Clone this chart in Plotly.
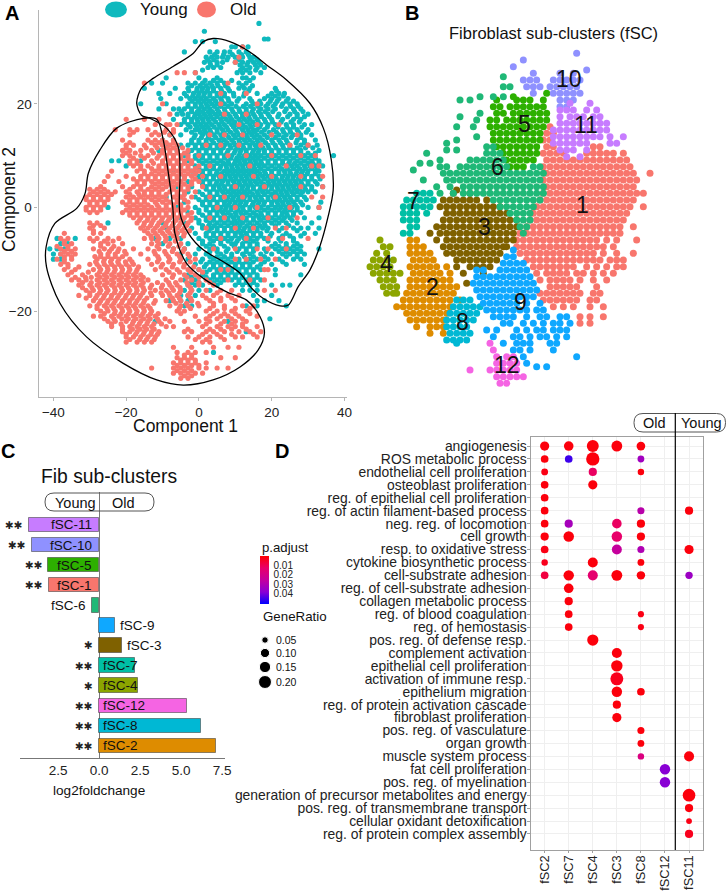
import math
import plotly.graph_objects as go

W, H = 726, 891
FONT = "Liberation Sans"
def px(x): return x / W
def py(y): return 1 - y / H

# ---------- Panel A: tSNE positions read row by row (y: x values) ----------
young_rows = {
35.5:[16.5],34:[1.5],32.5:[18,19],32:[-1,1,4.5],31:[9,10,12,13.5],30:[-4,3,5,7,8.5,11,13],
29:[2,3.5,5,6.5,8,10,12,14,15],28:[1.5,3,5,6.5,10,12,13.5,15,16.5],27:[2.5,4,6,12,14,16,18],
26:[-1,10.5,12,14,17],25:[-9,0,5,12,13,15],24:[-13,-10,-3,-1,1,3,5,7,11,13],
23:[-15,-6.5,-3,-0.5,1,2.5,4,6,8,11,12.5,14,21],22:[-11,-8,-4,-1.5,0,1.5,3,5,7,9.5,12.5,16,20,22,23.5],
21:[-10.5,-5,-2.5,-1,0.5,2,4,6,8,11,14,18,20,22,24.5],
20:[-16,-9,-3,-1,0.5,2,3.5,5,7,9,13,15,17,19,21,23,25,27],
19:[-11,-7,-5.5,-4,-2,0,1.5,3,5,7,9,11,13,15,17,19,21,24,26,28],
18:[-6,-4.5,-3,-1,0,1.5,3,4.5,6,8,10,12,13.5,15,17,19,22,25,27,30],
17:[-7,-4,-2,-0.5,1,2.5,4,6,7.5,9,11,12.5,14,16,18,20,23,26,28],
16:[-5,-3,-1,0.5,2,3.5,5.5,7,9,10,12,14,15.5,17,19,21,24,26,29,31],
15:[-3.5,-1,0,1.5,3,5,6.5,8,10,12,13.5,15,16,18,20.5,23,25,27,30],
14:[-8,-5,-1,1,2.5,4,6,7.5,9.5,11,13,14.5,16,18,20,22,24,26,28,31],
13:[-10,-7,-2,0,2,3.5,5.5,7,9,11,12.5,14,16,17.5,20,22,24,27,29,32],
12:[-8.5,-5,-3,-1,1,3,5,7,8.5,10,12,14,15.5,17,19,21,23,25,28,30,32.5],
11:[-11,-6,-2,0,2,4,6,8,10,11.5,13,15,16.5,18,20,22,24,26,28,33],
10:[-7,-4,-1,1,3,5,7,9,11,12.5,14,15.5,17,19,21,23,25,27,29,31,37],
9:[-24,-22,-16,-3,0,2,4,6,8,10,11,12.5,14,15.5,17,19,21,23,25,27,29,31,33],
8:[-20,-5,-1,2,4,6,7.5,9,10.5,12,13.5,15,16.5,18,20,22,24,25.5,27,29,30.5,32,34],
7:[-7,-2,1,3,5,7,8.5,10,11.5,13,14.5,16,18,20,22,23.5,25,27,28.5,30,32,33],
6:[-4,0,2,4,5.5,7,8.5,10,11.5,13,14.5,16,17.5,19,21,23,24.5,26,27.5,29,31,33],
5:[-8,-3,1,3,5,6.5,8,9.5,11,12.5,14,15.5,17,19,20.5,22,23.5,25,26.5,28,30,32],
4:[-6,-2,2,4,5.5,7,9,10.5,12,13.5,15,17,18.5,20,21.5,23,24.5,26,27.5,29,31,34],
3:[-3,0,3,5,6.5,8,9.5,11,12.5,14,16,17.5,19,21,22.5,24,25.5,27,28.5,30,32],
2:[-9,-5,-1,2,4,6,8,9.5,11,12.5,14,15.5,17,19,20.5,22,23.5,25,27,29],
1:[-4,1,3,5,7,8.5,10,11.5,13,15,16.5,18,20,21.5,23,24.5,26,28,33.5],
0:[-25,-6,-1,2,4,6,7.5,9,10.5,12,14,15.5,17,19,21,22.5,24,25.5,27,30,33],
-1:[-3,0,3,5,6.5,8,10,11.5,13,15,17,19,21,23,24,26,28],
-2:[-8,-5,-1,2,4,6,8,9.5,11,13,15,16.5,18,20,22,23.5,25,29,33],
-3:[-25,-10,-4,0,3,5,7,9,10.5,12,14,16,18,20,22,24,27,31],
-4:[-9,-6,-2,1,3.5,5,7,9,11,12.5,14,16,17.5,19,23,26,28,30,33],
-5:[-6,-1,2,4,6,8,10,11.5,13,15,17,20,24,29,32],
-6:[-39,-34,-12,-8,-5,0,3,5,7,9,11,12.5,14,16,18,22,26],
-7:[-38,-36,-10,-3,1,3,6,9,10,12,14,16,21,24,27],
-8:[-41,-39,-37,-7,-4,0,3,5,8,11,13,15,18,21,23,25,27,33],
-9:[-40,-38,-5,-1,2,6,9,12,14,17,20,23,25,27,29],
-10:[-40,-38,-3,1,4,6,8,11,14,16,19,22,26,28],
-11:[-1,2,4,6,8,10,12,14,17,20,24,29],-12:[0,3,5,7,9,11,13,15,17,21],
-13:[-3,1,4,6,8,10,12,14,16,21,28],-14:[-4,-1,3,5,7,9,11,13,15,17],
-15:[-3,-1,1,5,10,12,14,16,20,23,25],-16:[-4,-2,0,3,12,14,16],-17:[-5,-3,-1,15,20],
-18:[-8,-5,-3,16,18,22],-19:[-4,-2,13,16,24],-21.5:[19.5],-22:[8,-12],-24:[13],-28:[4],
}
young_rows_between = {
29.5:[4.3,6.8,9.2,11.7,13.6],28.5:[2.4,4.1,7.7,11,14.3,16],27.5:[3.2,5,11.3,13.2,15.5,17],26.5:[1,11.4,13,15.6],
24.5:[1.7,4,6,9,14],23.5:[-2,0.3,2,3.6,5.2,7.3,12,14.7],22.5:[-2.8,-0.6,0.8,2.3,4,6.2,8.4,13.7,21.3],
21.5:[-3.4,-1.7,-0.2,1.3,3,5,7,9.6,12.3,19,21,23.2],20.5:[-1.9,-0.1,1.4,2.9,4.6,6.3,8.2,10.5,14.5,16.7,19.6,21.5,24,26],
19.5:[-3,-1,0.7,2.4,4.2,6,8,10.2,12.2,14.2,16.2,18.4,20.4,22.7,25.2,27.3],
18.5:[-4.8,-2,-0.4,1,2.6,3.7,5.4,7.2,9.3,11.2,13,14.6,16.4,18.2,20.3,23.6,26.3,28.6],
17.5:[-3,-1.2,0.4,1.9,3.3,5,6.8,8.6,10.3,12,13.7,15.4,17.2,19.4,21.7,24.4,27,29],
16.5:[-4,-2,-0.3,1.2,2.8,4.6,6.3,8.2,9.8,11.4,13.2,14.8,16.3,18.3,20.2,22.6,25.3,27.6],
15.5:[-2.4,-0.5,1,2.4,4.2,5.8,7.6,9.5,11.1,12.8,14.4,16.7,18.8,21.7,24.2,26,28.3],
14.5:[-2,0.4,1.8,3.3,5,6.8,8.7,10.5,12.3,13.9,15.3,17.2,19.3,21.3,23.3,25.2,27.4,29.5],
13.5:[-1.3,0.7,2.6,4.6,6.4,8.2,10,11.8,13.3,15.2,16.8,18.8,21,23.2,25.4,28],
12.5:[-2,0,2,4,6,7.7,9.6,11.2,13,14.8,16.3,18.3,20.3,22.4,24.3,26.7,29],
11.5:[-1,1,3,5,6.7,8.8,10.6,12.3,14,15.8,17.6,19.2,21.2,23.2,25,27,29.3,31.3],
10.5:[-3,0,2,4,6,7.7,9.7,11.3,13,14.7,16.2,18,20,22,24,26,28,30,32],
9.5:[-1,1,3,5,7,8.8,10.4,11.8,13.3,14.8,16.2,18,20,22,24,26,28,30,32],
8.5:[-2,1,3,5,6.8,8.2,9.8,11.3,12.8,14.3,15.8,17.2,19,21,23,24.7,26.3,28,30,31.3,33],
7.5:[0,2,4,5.8,7.7,9.2,10.8,12.2,13.8,15.3,17,19,21,22.7,24.3,26,27.7,29.3,31,32.5],
6.5:[-1,1,3,4.8,6.2,7.8,9.3,10.8,12.3,13.8,15.3,16.8,18.3,20,22,23.7,25.2,26.7,28.2,29.8,32],
5.5:[0,2,4,5.8,7.2,8.8,10.2,11.8,13.3,14.8,16.3,18,19.8,21.3,22.8,24.3,25.8,27.3,29,31,33.3],
4.5:[1,3,4.7,6.2,8,9.8,11.2,12.8,14.3,16,17.8,19.3,20.8,22.2,23.8,25.3,26.8,28.3,30,32.5],
3.5:[2,4,5.8,7.2,8.8,10.2,11.8,13.3,15,16.8,18.2,20,21.8,23.2,24.8,26.3,27.7,29.3,31],
2.5:[1,3,5,7,8.8,10.3,11.8,13.2,14.8,16.3,18,20,21.3,22.8,24.3,26,28],
1.5:[0,2,4,6,7.7,9.2,10.8,12.2,14,15.8,17.3,19,20.8,22.2,23.8,25.3,27,29.5],
0.5:[1,3,5,7,8.2,9.8,11.2,12.8,14.7,16.2,17.8,20,21.8,23.2,24.8,26.5,28.5],
-0.5:[0,2,4,5.8,7.2,8.8,10.8,12.2,14,16,18,20,22,23.6,25,27],
-1.5:[1,3,5,7,8.8,10.2,12,14,15.8,17.2,19,21,22.8,24.3,26],-2.5:[0,2,4,6,8,9.8,11.3,13,15,17,19,21,23,25.6],
-3.5:[1,2.7,4.2,6,8,9.8,11.3,13.2,15,16.8,18.2,21,24.7],-4.5:[2.8,5,7,9,10.8,12.2,14,16,18.7,22,27],
-5.5:[2,4,6,8,10,11.8,13.2,15,17,19.6,23,25,28],-6.5:[1,4,6,8,10.5,13,15,19,22.5,26],
-7.5:[2,4,7,9.7,12,14,16,20,22,24,26,28],-8.5:[3,5,7.5,10.5,13,15,18.5,22,24,26,28],-9.5:[3,5,7,9,12.5,15,18,24,27],
-10.5:[0.5,3,5,7,9,11,13,15,18,23],-11.5:[1.5,4,6,8,10,12,14,16],-12.5:[2,5,7,9,11,13,15],
-13.5:[-2,2,4,6,8,10,12,14,16],-14.5:[-2,0,4,6,11,13,15],
}
old_rows = {
31:[12],29:[11],28:[10],26:[-6,-4,-1],24:[-15,8],22:[6,13],20:[-10,6,16],18:[-8,7,13],
17:[-20,-15,-11],16:[-12,-9,-8,-6,11,16,22],15:[-23,-19,-17,-14,-9,-7],
14:[-19,-13,-11,-8,3,7,12,20,27],13:[-21,-14,-12,-10,-7],
12:[-20,-18,-15,-12,-10,-8,-6,2,6,11,17,25,30],11:[-21,-19,-16,-13,-10,-8,-6,-3],
10:[-21,-19,-16,-14,-11,-9,-7,-5,-3,0,8,13,20,28,32],9:[-19,-17,-13,-10,-8,-6,-4,-2],
8:[-18,-16,-14,-11,-9,-7,-5,-3,0,3,14,24,31,33],7:[-24,-17,-15,-12,-10,-8,-6,-4,-2,0],
6:[-25,-20,-16,-14,-12,-10,-8,-6,-4,-2,1,6,15,20,28,34],5:[-26,-22,-17,-15,-13,-11,-9,-7,-5,-2,0],
4:[-27,-21,-18,-16,-13,-11,-9,-7,-5,-3,1,10,18,28,34],
3:[-29,-27,-25,-23,-20,-17,-15,-13,-11,-8,-6,-4,-1],
2:[-31,-29,-27,-25,-20,-18,-16,-14,-12,-10,-7,-5,-2,3,7,12,21,31,34],
1:[-30,-28,-26,-21,-19,-17,-15,-12,-10,-8,-6,-3],
0:[-31,-29,-27,-19,-17,-15,-13,-11,-9,-7,-5,-3,5,10,16,25,33],
-1:[-30,-28,-21,-19,-17,-15,-13,-11,-9,-7,-5,-2],
-2:[-18,-16,-14,-12,-10,-8,-6,-4,-2,3,7,12,19,27],
-3:[-30,-28,-17,-15,-13,-11,-9,-7,-5,-3],
-4:[-30,-26,-16,-14,-12,-10,-8,-6,-4,2,10,15,21,24],-5:[-29,-27,-14,-12,-10,-8,-6,-4,-37],
-6:[-38,-36,-30,-28,-25,-22,-15,-13,-11,-9,-6,6,13,19,23,30],
-7:[-37,-35,-27,-25,-21,-13,-11,-8,-5],
-8:[-38,-36,-34,-29,-26,-24,-22,-18,-14,-11,-7,-4,4,10,16,19,24],
-9:[-38,-36,-34,-27,-25,-23,-20,-16,-12,-9,-6,-3],
-10:[-39,-37,-35,-28,-26,-24,-22,-19,-14,-11,-8,-5,-1,10,13,17,21],
-11:[-38,-36,-30,-28,-26,-24,-22,-20,-18,-13,-10,-7,-4],
-12:[-37,-34,-29,-27,-25,-23,-21,-19,-17,-12,-9,-6,-3,0,6,8,18,19],
-13:[-36,-32,-28,-26,-24,-22,-20,-18,-16,-10,-7,-4,-1],
-14:[-35,-33,-31,-28,-26,-24,-22,-20,-18,-16,-14,-9,-5,-2,2,8,14,18],
-15:[-33,-30,-28,-26,-24,-22,-20,-18,-16,-13,-10,-8,-6,-3,0,4],
-16:[-31,-29,-27,-25,-23,-21,-19,-17,-15,-12,-9,-7,-5,-2,2,6,9,18,21],
-17:[-33,-30,-28,-26,-24,-22,-20,-18,-16,-13,-10,-8,-6,-3,1,4,8,11],
-18:[-29,-27,-25,-23,-21,-19,-17,-15,-12,-9,-7,-5,-2,3,6,10],
-19:[-30,-28,-26,-24,-22,-20,-18,-16,-14,-8,-5,-3,0,4,7,12,15],
-20:[-27,-25,-23,-21,-19,-17,-15,-13,-6,-4,2,5,9,13],
-21:[-29,-27,-24,-22,-20,-18,-16,-14,-12,-1,3,6,8,11,16],
-22:[-25,-23,-20,-18,-16,-14,-11,-8,-4,0,3,7,10,13],
-23:[-24,-21,-19,-17,-15,-13,-9,-7,1,5,8,10,12,16],
-24:[-21,-19,-17,-15,-13,-11,-4,-2,2,4,7,11,14,17],
-25:[-20,-18,-16,-14,-12,-3,0,3,6,10,12,16],-26:[-20,-17,-15,-13,1,3],-27:[-7,-2,4,8,11],
-28:[-6,-3,-1,2],-29:[-6,-4,-2,6,10],-30:[-7,-5,-3,-1,2],-31:[-13,-7,-5,-3,0,2,5,8],
-32:[-7,-5,-3,-1,1],-33:[-5,-3],
}
old_rows_between = {
14.5:[-18,-12,-9.5,-7],12.5:[-19,-13,-11,-9,-7],11.5:[-20,-14.5,-11.5,-9,-7,-4.5],10.5:[-20,-17.5,-12.5,-10,-8,-6,-4],
9.5:[-18,-15,-11.5,-9,-7,-5,-3],8.5:[-19,-17,-12.5,-10,-8,-6,-4,-2],7.5:[-16,-13,-11,-9,-7,-5,-3,-1],
6.5:[-15,-13,-11,-9,-7,-5,-3,-1],5.5:[-18,-16,-14,-12,-10,-8,-6,-4,-1],4.5:[-17,-15,-12,-10,-8,-6,-4,-2],
3.5:[-30,-28,-26,-19,-16,-14,-12,-10,-7,-5,-3],2.5:[-30,-28,-26,-24,-19,-16.5,-15,-13,-11,-9,-6,-4],
1.5:[-31,-29,-27,-25,-19,-17,-15,-13,-11,-9,-6,-4],0.5:[-30,-28,-26,-20,-18,-16,-14,-11.5,-9,-7,-5],
-0.5:[-31,-29,-27,-20,-18,-16,-14,-12,-10,-8,-6,-4],-1.5:[-19,-17,-15,-13,-11,-9,-7,-5,-3],
-2.5:[-16.4,-14.2,-12.6,-10.3,-8.4,-6.3,-4.6,-2.2],-3.5:[-29,-27,-15.2,-13.3,-11.4,-9.2,-7.3,-5.4,-3.4],-4.5:[-29,-15,-12.6,-10.7,-8.6,-6.6,-4.7,-2.6],
-5.5:[-13.2,-11.4,-9.3,-7,-4.2],-6.5:[-37,-29,-26,-23.6,-11.5,-9.2,-6.5],-7.5:[-39,-36,-27,-23.4,-11.5,-8.4,-5.5],
-8.5:[-37,-35,-27.4,-24.6,-22.3,-20.4,-12.3,-9.4,-7.3,-4.4],-9.5:[-37,-35,-28.6,-27,-25,-23,-21,-11.3,-8.4,-5.3,-2.6],
-10.5:[-37,-28.4,-26.2,-24.3,-22.3,-20.2,-18.4,-11.4,-8.3,-5.3,-2.4],-11.5:[-36,-33,-27.4,-25.2,-23.2,-21.3,-19.2,-16.6,-10.4,-7.3,-4.2,-1.4],
-12.5:[-35,-30.4,-27.3,-25.3,-23.3,-21.2,-19.3,-17.3,-8.2,-5.3,-2.2,1],-13.5:[-34,-31.2,-29.6,-27.2,-25.3,-23.2,-21.2,-19.3,-17.2,-15.3,-7.3,-3.3,0],
-14.5:[-32,-29.6,-27.3,-25.2,-23.4,-21.3,-19.2,-17.4,-15.3,-11.4,-8.3,-6.4,-3.3,0,3],-15.5:[-32,-29.4,-27.3,-25.4,-23.2,-21.3,-19.4,-17.2,-15.3,-13.4,-10.3,-7.4,-5.2,-2.3],
-16.5:[-30,-27.3,-25.4,-23.2,-21.4,-19.3,-17.2,-15.4,-13.3,-10.4,-8.3,-5.3,-2.4,5],-17.5:[-31,-28.4,-26.3,-24.2,-22.4,-20.3,-18.3,-16.4,-14.3,-7.3,-5.4,-2.3,2,6,9],
-18.5:[-27.4,-25.3,-23.4,-21.3,-19.2,-17.4,-15.3,-12.4,-6.3,-3.4,-0.3,4],-19.5:[-28,-25.3,-23.4,-21.2,-19.3,-17.4,-15.2,-13.4,-5.4,-2.3,3,7,10,14],
-20.5:[-26,-23.2,-21.4,-19.3,-17.2,-15.4,-13.3,-11.2,-5,4,7,10,14],-21.5:[-26,-23.4,-21.2,-19.4,-17.3,-15.2,-13.4,-11.4,-9.3,2,5,9,12],
-22.5:[-24,-21.4,-18.3,-16.4,-14.3,-12.4,-10.3,2,6,9,12],-23.5:[-21,-18.3,-16.2,-14.4,-12.3,-3,3,6,9,13],-24.5:[-20,-17.4,-15.3,-13.2,-11.4,1,5,9,15],
-25.5:[-19,-16.3,-14.4,-12.3,-1,2,7],-28.5:[-4,-2],-29.5:[-5,-3,-1],-30.5:[-6,-4,-2,0],-31.5:[-6,-4,-2],-32.5:[-4,-2],
}
young_outline_x = [-17.1,-15.8,-12.6,-7.1,-1.6,1.2,3.9,8.5,14,18.6,24.1,30.5,34.2,36.4,36.9,35.5,33.2,30.5,27.3,24.5,22.3,17.7,14.5,11.3,6.7,1.2,-2.9,-5.2,-5.2,-5.7,-8.9,-13.5,-15.8,-17.1]
young_outline_y = [20.1,23,24.9,27.2,29.7,32,32.6,32,30,27.5,24.6,20.1,15.3,9.1,3.3,-1.8,-7.6,-12.1,-15.3,-18.9,-19,-17.6,-15.6,-12.7,-10.5,-8.2,-5,-1.2,6.6,11.7,15.3,17.2,17.8,20.1]
old_outline_x = [-15.3,-11.6,-9.8,-8.4,-7.2,-6.6,-3.4,1.2,7.6,13.1,16.8,18,16.3,11.3,3.9,-4.3,-11.6,-20.8,-30.9,-38.2,-41.9,-42,-39.6,-33.6,-31.3,-30.4,-27.2,-22.6,-15.3]
old_outline_y = [17.2,17,13,6.6,0.1,-5,-10.8,-13.7,-16.3,-17.9,-21.1,-24.3,-27.5,-30.8,-33.3,-34.3,-33.3,-30.1,-25,-18.5,-11.5,-7.6,-3.1,-0.2,2.7,6.6,11.1,15.3,17.2]

# ---------- Panel B: cluster positions, unlabeled tSNE units ----------
cluster_colors = {1:"#F8766D",2:"#DE8C00",3:"#7F6100",4:"#8CA500",5:"#2DB000",6:"#1FB877",7:"#00BFA5",
                  8:"#00B8D4",9:"#0FA8FF",10:"#8F91FF",11:"#C77CFF",12:"#F564E3"}
c1 = {38:[57],40:[56,58],42:[55,57],44:[56,58,70,72],46:[55,57,59,61,68,70,72,74,76,79],
48:[56,58,60,62,64,66,68,70,72,74,76,78,80],50:[55,57,59,61,63,65,67,69,71,73,75,77,79,81],
52:[56,58,60,62,64,66,68,70,72,74,76,78,80,82,87],54:[55,57,59,61,63,65,67,69,71,73,75,77,79,81,83],
56:[56,58,60,62,64,66,68,70,72,74,76,78,80,82],58:[55,57,59,61,63,65,67,69,71,73,75,77,79,81,83,85],
60:[54,56,58,60,62,64,66,68,70,72,74,76,78,80,82],62:[53,55,57,59,61,63,65,67,69,71,73,75,77,79,81,85],
64:[52,54,56,58,60,62,64,66,68,70,72,74,76,78,80],66:[51,53,55,57,59,61,63,65,67,69,71,73,75,77,79],
68:[50,52,54,56,58,60,62,64,66,68,70,72,74,76,78,82],70:[48,50,52,54,56,58,60,62,64,66,68,70,72,74,76,78],
72:[47,49,51,53,55,57,59,61,63,65,67,69,71,74,77,83],74:[47,49,51,53,55,57,59,61,63,65,67,69,71,73,76],
76:[48,50,52,54,56,58,60,62,64,66,68,70,73,77,82],78:[50,52,54,56,58,60,62,64,66,68,70,72,75,77,79],
80:[52,54,56,58,60,62,64,68,71,74,77,79],82:[53,56,58,60,62,65,67,70,73,76],84:[54,57,59,61,63,66,70,74],
86:[57,59,61,63,65,71],88:[54,56,58,60,62,64,66,70,72],90:[55,57,59,61,63,65,69,71],92:[58,61,64,69,73],95:[66,69,73],97:[66,69]}
c2 = {72:[15,17],74:[15,17,19],76:[15,17,19,21],78:[16,18,20,22],80:[15,17,19,21,23,26],82:[16,18,20,22,24,27],
84:[15,17,19,21,23,25,27],86:[15,17,19,21,23,25,27,29],88:[14,16,18,20,22,24,26,28],90:[13,15,17,19,21,23,25,27,30],
92:[11,13,15,17,19,21,23,25,27],94:[14,16,18,20,22,24,26],96:[15,17,19,21,23,25],98:[17,21,23,25],100:[21,25]}
c3 = {57:[29],58:[28,33],60:[25,27,29,31,33,35,38],62:[24,26,28,30,32,34,36,38,40,42],64:[26,28,30,32,34,36,38,40,42,44],
66:[25,27,29,31,33,35,37,39,41,43,45,47],68:[23,25,27,29,31,33,35,37,39,41,43,45,47],70:[21,24,26,28,30,32,34,36,38,40,42,44,46],
72:[23,26,28,30,32,34,36,38,40,42,44,46],74:[25,27,29,31,33,35,37,39,41,43,44],76:[26,28,30,32,34,36,38,40,42],
78:[29,31,33,35,37,39,41],80:[29,33,35,37,39],82:[31,37],85:[32]}
c4 = {72:[6],74:[7,9],76:[5,8],78:[4,6,8,10],80:[3,5,7,9],82:[4,6,8,10,12],84:[6,8,10],86:[7,9,11],88:[8,10,11]}
c5 = {28:[56],29:[46],30:[41,47,49,51,55],32:[40,42,45,47,49,51,53,55],34:[41,43,46,48,50,52,54,56],
36:[39,41,44,46,48,50,52,54,56],38:[39,41,43,45,47,49,51,53,55],40:[40,42,44,46,48,50,52,54],
42:[40,42,44,46,48,50,52,54],44:[41,43,45,47,49,51,53],46:[43,45,47,49,51,53],48:[44,46,48,50,52],50:[45,47,49]}
c6 = {23:[43],26:[43,45],29:[36,40,43],30:[30,33],34:[36],35:[30],36:[35],38:[29,34],41:[35],42:[29],43:[26],
44:[38,40],45:[26,29],46:[20,38,40,42],48:[24,33,35,37,39,41,43],49:[18,21],50:[24,26,30,32,34,36,38,40,42,44,52,54],
51:[16],52:[25,27,29,31,33,35,37,39,41,43,45,47,49,51,53,55],54:[19,26,28,30,32,34,36,38,40,42,44,46,48,50,52,54],
56:[23,27,31,33,35,37,39,41,43,45,47,49,51,53,55],58:[24,28,31,33,35,37,39,41,43,45,47,49,51,53,55],
60:[40,42,44,46,48,50,52,54],62:[42,44,46,48,50,52],64:[45,47,49,51],66:[47,49,51],68:[48,50],70:[49]}
c7 = {58:[17,19,21],60:[14,16,18,20,22],62:[13,15,17,19,21],64:[13,15,17,20],66:[13,15,17],68:[15,17],70:[13,15]}
c8 = {90:[29,31,33],92:[28,30,32,34,36],94:[27,29,31,33,35],96:[26,28,30,32,34],98:[26,28,30,32],100:[27,29,31,33],102:[26,28,30,32],103:[29]}
c9 = {75:[46],77:[44,46],79:[43,45,47,49],81:[35,37,42,44,46,48,50],83:[35,37,39,41,43,45,47,49,51],
85:[34,36,38,40,42,44,46,48,50,52],87:[35,37,39,41,43,45,47,49,51,53],89:[36,38,40,42,44,46,48,50,52],
91:[37,39,41,43,45,47,50,54],93:[38,40,42,44,46,48,50,53,55],95:[40,42,44,46,50,54,56,60,62],97:[43,45,49,52,55,58,60,63],
99:[38,41,47,50,53,55,58,60,62],101:[40,46,48,51,54,56,59,62],103:[43,47,49,51,57,59],105:[46,48,51,58],107:[49,65],109:[50],110:[53,56]}
c10 = {16:[65],18:[49],20:[46],21:[68],22:[52,60,64],24:[49,51,53,58,60,62,64,66],26:[50,52,54,57,59,61,63,65],
28:[52,58,60,62,64,66],30:[60,62,64],32:[60,62]}
c11 = {31:[63,69],33:[60,62,64,68,71],35:[60,63,65,67,70,72],37:[60,62,64,66,68,70,72,74],39:[58,60,62,64,66,68,70,72,74],
41:[58,60,62,64,66,68,70,72,75,79],43:[58,60,62,64,66,68,75,77],45:[60,62,64,68],47:[62,66]}
c12 = {103:[39],105:[40],107:[41,44,46],109:[41,43,45,47],111:[33,39,41,43,45,47],113:[41,43,45,47,49],115:[42,44]}
clusters = {1:c1,2:c2,3:c3,4:c4,5:c5,6:c6,7:c7,8:c8,9:c9,10:c10,11:c11,12:c12}
cluster_label_x = {1:66.7,2:21.8,3:37.3,4:7.8,5:49.2,6:41.3,7:16,8:30.7,9:48.2,10:62.8,11:67.7,12:44}
cluster_label_y = {1:61.5,2:86.2,3:68.2,4:79.3,5:37.3,6:50,7:60.3,8:96.5,9:90.5,10:23.7,11:37.5,12:109.5}

# ---------- Panel C ----------
bar_names = ["fSC-2","fSC-8","fSC-12","fSC-4","fSC-7","fSC-3","fSC-9","fSC-6","fSC-1","fSC-5","fSC-10","fSC-11"]
bar_values = [7.15,6.24,5.39,2.38,2.17,1.4,0.98,-0.43,-3.05,-3.1,-4.09,-4.27]
bar_clusters = [2,8,12,4,7,3,9,6,1,5,10,11]
bar_stars = [2,2,2,1,2,1,0,0,2,2,2,2]

# ---------- Panel D ----------
go_terms = ["angiogenesis","ROS metabolic process","endothelial cell proliferation","osteoblast proliferation",
"reg. of epithelial cell proliferation","reg. of actin filament-based process","neg. reg. of locomotion","cell growth",
"resp. to oxidative stress","cytokine biosynthetic process","cell-substrate adhesion","reg. of cell-substrate adhesion",
"collagen metabolic process","reg. of blood coagulation","reg. of hemostasis","pos. reg. of defense resp.",
"complement activation","epithelial cell proliferation","activation of immune resp.","epithelium migration",
"reg. of protein activation cascade","fibroblast proliferation","pos. reg. of vasculature","organ growth",
"muscle system process","fat cell proliferation","pos. reg. of myelination","generation of precursor metabolites and energy",
"pos. reg. of transmembrane transport","cellular oxidant detoxification","reg. of protein complex assembly"]
go_columns = ["fSC2","fSC7","fSC4","fSC3","fSC8","fSC12","fSC11"]
# column: (term index, GeneRatio, p.adjust)
dots_fSC2 = [(0,.10,.002),(1,.07,.002),(2,.055,.003),(3,.07,.002),(4,.07,.002),(5,.07,.002),(6,.07,.002),(7,.08,.002),(8,.07,.003),(9,.05,.004),(10,.07,.008)]
dots_fSC7 = [(0,.11,.002),(1,.07,.045),(6,.08,.032),(7,.13,.002),(10,.13,.002),(11,.11,.002),(12,.08,.002),(13,.07,.002),(14,.07,.002)]
dots_fSC4 = [(0,.17,.002),(1,.21,.002),(2,.08,.012),(3,.10,.002),(9,.12,.002),(10,.12,.014),(15,.15,.002)]
dots_fSC3 = [(0,.14,.002),(6,.11,.012),(7,.13,.013),(8,.12,.025),(10,.14,.002),(16,.12,.002),(17,.155,.002),(18,.20,.004),(19,.13,.002),(20,.08,.002),(21,.10,.002)]
dots_fSC8 = [(0,.09,.002),(1,.055,.033),(2,.05,.002),(5,.06,.028),(6,.08,.002),(7,.08,.002),(8,.06,.03),(9,.055,.002),(10,.085,.002),(13,.045,.003),(14,.045,.003),(19,.07,.002),(22,.06,.002),(23,.055,.002),(24,.05,.018)]
dots_fSC12 = [(25,.13,.038),(26,.13,.038)]
dots_fSC11 = [(5,.08,.002),(8,.10,.002),(10,.065,.034),(24,.12,.002),(27,.19,.002),(28,.08,.002),(29,.04,.003),(30,.08,.004)]
column_dots = [dots_fSC2,dots_fSC7,dots_fSC4,dots_fSC3,dots_fSC8,dots_fSC12,dots_fSC11]
size_legend_ratio = [0.05,0.10,0.15,0.20]
padj_ticks = [0.01,0.02,0.03,0.04]

def expand(*tables):
    xs, ys = [], []
    for rows in tables:
        for y, row in rows.items():
            for x in row:
                xs.append(x); ys.append(y)
    return xs, ys

def dia(r): return 29 * math.sqrt(r)

fig = go.Figure()

# A
yx, yy = expand(young_rows, young_rows_between)
ox, oy = expand(old_rows, old_rows_between)
fig.add_trace(go.Scatter(x=yx, y=yy, mode="markers", marker=dict(size=5.2, color="#0FB9BE"), xaxis="x", yaxis="y", showlegend=False))
fig.add_trace(go.Scatter(x=ox, y=oy, mode="markers", marker=dict(size=5.2, color="#F8766D"), xaxis="x", yaxis="y", showlegend=False))
for ox_, oy_ in ((young_outline_x, young_outline_y), (old_outline_x, old_outline_y)):
    fig.add_trace(go.Scatter(x=ox_, y=oy_, mode="lines", line=dict(color="black", width=1.3, shape="spline", smoothing=0.9),
                             xaxis="x", yaxis="y", showlegend=False))

# B
for k, rows in clusters.items():
    bx, by = expand(rows)
    fig.add_trace(go.Scatter(x=bx, y=by, mode="markers", marker=dict(size=7, color=cluster_colors[k]), xaxis="x2", yaxis="y2", showlegend=False))

# C
fig.add_trace(go.Bar(x=bar_values, y=bar_names, orientation="h", width=0.72,
                     marker=dict(color=[cluster_colors[c] for c in bar_clusters], line=dict(color="rgba(60,60,60,0.55)", width=1)),
                     xaxis="x3", yaxis="y3", showlegend=False))

# D
dx, dy, ds, dc = [], [], [], []
for col, rows in zip(go_columns, column_dots):
    for t, r, p in rows:
        dx.append(col); dy.append(go_terms[t]); ds.append(dia(r)); dc.append(-p)
fig.add_trace(go.Scatter(x=dx, y=dy, mode="markers", xaxis="x4", yaxis="y4", showlegend=False,
    marker=dict(size=ds, color=dc, opacity=1, cmin=-0.0504, cmax=-0.0006,
        colorscale=[[0,"#0000FF"],[0.25,"#8A00D4"],[0.5,"#C4009E"],[0.75,"#E8006A"],[1,"#FF0000"]], line=dict(width=0),
        colorbar=dict(x=px(260), xanchor="left", xpad=0, ypad=0, y=py(556), yanchor="top", lenmode="pixels", len=48, thickness=9,
                      outlinewidth=0, tickvals=[-v for v in padj_ticks], ticktext=[f"{v:.2f}" for v in padj_ticks],
                      ticks="outside", ticklen=3, tickcolor="rgba(0,0,0,0)", tickfont=dict(size=10, family=FONT, color="#222")))))
# size legend on a page-spanning helper axis
fig.add_trace(go.Scatter(x=[265]*4, y=[640,653,667,682], mode="markers", xaxis="x5", yaxis="y5", showlegend=False,
                         marker=dict(size=[dia(r) for r in size_legend_ratio], color="black", opacity=1)))

ann = []
def text(x, y, s, size=12, anchor="center", bold=False, color="#111", rot=0):
    ann.append(dict(x=px(x), y=py(y), xref="paper", yref="paper", text=f"<b>{s}</b>" if bold else s, showarrow=False, xanchor=anchor, yanchor="middle",
                    textangle=rot, font=dict(size=size, family=FONT, color=color)))
for s, x, y in (("A",12,13),("B",412,13),("C",8,451),("D",282,451)):
    text(x, y, s, size=20, bold=True, color="black")
text(138, 10, "Young", 17, "left")
text(228, 10, "Old", 17, "left")
text(185, 426, "Component 1", 17.5)
text(9, 200, "Component 2", 17.5, rot=-90)
text(553, 33, "Fibroblast sub-clusters (fSC)", 16.5)
text(39, 476, "Fib sub-clusters", 19.3, "left")
text(99, 790, "log2foldchange", 13.6)
text(75, 503, "Young", 14.5); text(123, 503, "Old", 14.5)
text(654, 423, "Old", 14.5); text(701, 423, "Young", 14.5)
text(260, 547, "p.adjust", 13.2, "left")
text(261, 616, "GeneRatio", 13.3, "left")
for v, y in zip(size_legend_ratio, [640,653,667,682]):
    text(274, y, f"{v:.2f}", 10.5, "left")

for k in clusters:
    ann.append(dict(x=cluster_label_x[k], y=cluster_label_y[k], xref="x2", yref="y2", text=str(k), showarrow=False,
                    font=dict(size=23, family=FONT, color="#111")))
for name, v, st in zip(bar_names, bar_values, bar_stars):
    if v < -1: lx, a = -0.3, "right"
    elif v < 0: lx, a = v - 0.25, "right"
    elif v < 1.6: lx, a = v + 0.2, "left"
    else: lx, a = 0.1, "left"
    ann.append(dict(x=lx, y=name, xref="x3", yref="y3", text=name, showarrow=False, xanchor=a,
                    font=dict(size=13.5, family=FONT, color="#111")))
    if st:
        sx = v - 0.22 if v < 0 else -0.22
        ann.append(dict(x=sx, y=name, xref="x3", yref="y3", text="✱"*st, showarrow=False, xanchor="right",
                        font=dict(size=10.5, family="DejaVu Sans", color="#222")))

def pill(x0, x1, y0, y1, r=9):
    X0,X1=px(x0),px(x1); Y0,Y1=py(y0),py(y1); rx=r/W; ry=r/H
    return dict(type="path", xref="paper", yref="paper", line=dict(color="#555", width=1),
        path=f"M {X0+rx} {Y0} L {X1-rx} {Y0} Q {X1} {Y0} {X1} {Y0-ry} L {X1} {Y1+ry} Q {X1} {Y1} {X1-rx} {Y1} L {X0+rx} {Y1} Q {X0} {Y1} {X0} {Y1+ry} L {X0} {Y0-ry} Q {X0} {Y0} {X0+rx} {Y0} Z")
shapes = [
    dict(type="circle", xref="paper", yref="paper", x0=px(105), x1=px(127), y0=py(17.5), y1=py(1.5), fillcolor="#0FB9BE", line=dict(width=0)),
    dict(type="circle", xref="paper", yref="paper", x0=px(197), x1=px(216), y0=py(17.5), y1=py(1.5), fillcolor="#F8766D", line=dict(width=0)),
    pill(45, 154, 493, 511), pill(634, 725.5, 413.5, 432),
    dict(type="line", xref="paper", yref="paper", x0=px(675.3), x1=px(675.3), y0=py(413), y1=py(850), line=dict(color="black", width=1.2)),
]

ax_a = dict(showgrid=False, zeroline=False, showline=True, linecolor="#B5B5B5", linewidth=1.2, ticks="outside", ticklen=3, tickcolor="#B5B5B5",
            tickfont=dict(size=13.5, family=FONT, color="#222"))
hidden = dict(visible=False, showgrid=False, zeroline=False)
fig.update_layout(
    width=W, height=H, margin=dict(l=0, r=0, t=0, b=0, autoexpand=False), paper_bgcolor="white", plot_bgcolor="rgba(0,0,0,0)",
    font=dict(family=FONT), annotations=ann, shapes=shapes, showlegend=False, bargap=0,
    xaxis=dict(ax_a, domain=[px(38.5), px(347)], range=[-44.1, 40.7], tickvals=[-40,-20,0,20,40], anchor="y"),
    yaxis=dict(ax_a, domain=[py(397), py(10)], range=[-36.6, 38.1], tickvals=[-20,0,20], anchor="x"),
    xaxis2=dict(hidden, domain=[px(360), px(726)], range=[0, 109.8], anchor="y2"),
    yaxis2=dict(hidden, domain=[py(400), py(0)], range=[120, 0], anchor="x2"),
    xaxis3=dict(domain=[px(20), px(225)], range=[-4.82, 7.68], tickvals=[-2.5,0,2.5,5,7.5], ticktext=["2.5","0.0","2.5","5.0","7.5"],
                showgrid=False, zeroline=True, zerolinecolor="#777", zerolinewidth=1.1, showline=True, linecolor="#777", linewidth=1.1, ticks="", anchor="y3",
                tickfont=dict(size=13.5, family=FONT, color="#222")),
    yaxis3=dict(domain=[py(758), py(492)], range=[-0.6, 12.64], type="category", categoryorder="array", categoryarray=bar_names,
                showticklabels=False, showgrid=False, zeroline=False, showline=False, ticks="", anchor="x3"),
    xaxis4=dict(domain=[px(530.7), px(703)], range=[-0.58, 6.58], type="category", categoryorder="array", categoryarray=go_columns,
                showgrid=True, gridcolor="#EFEFEF", gridwidth=1, zeroline=False, showline=True, mirror=True, linecolor="#A0A0A0", linewidth=1.3,
                ticks="outside", ticklen=2, tickcolor="#A0A0A0", tickangle=-90, ticklabelstandoff=-3,
                tickfont=dict(size=12.8, family=FONT, color="#222"), anchor="y4"),
    yaxis4=dict(domain=[py(850), py(437)], range=[31.24, -0.7], type="category", categoryorder="array", categoryarray=go_terms,
                showgrid=True, gridcolor="#EFEFEF", gridwidth=1, zeroline=False, showline=True, mirror=True, linecolor="#A0A0A0", linewidth=1.3,
                ticks="outside", ticklen=3, tickcolor="#A0A0A0", tickmode="linear", dtick=1, ticklabelstandoff=-3,
                tickfont=dict(size=13.9, family=FONT, color="#222"), anchor="x4"),
    xaxis5=dict(hidden, domain=[0, 1], range=[0, W], anchor="y5"),
    yaxis5=dict(hidden, domain=[0, 1], range=[H, 0], anchor="x5"),
)

fig.write_html("out.html", config=dict(displayModeBar=False),
               post_script="document.body.style.margin='0';document.body.style.overflow='hidden';window.dispatchEvent(new Event('resize'));")
